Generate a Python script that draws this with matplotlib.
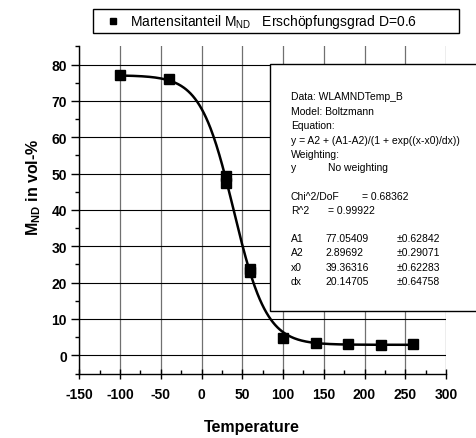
import numpy as np
import matplotlib
matplotlib.use("Agg")
import matplotlib.pyplot as plt
from matplotlib.patches import Rectangle
from matplotlib.lines import Line2D
from matplotlib.ticker import MultipleLocator

plt.rcParams['font.family'] = ['Liberation Sans', 'DejaVu Sans']
plt.rcParams['mathtext.fontset'] = 'custom'
plt.rcParams['mathtext.rm'] = 'Liberation Sans'
plt.rcParams['mathtext.bf'] = 'Liberation Sans:bold'
plt.rcParams['axes.unicode_minus'] = False

# Measured martensite fraction vs. temperature
temperature = [-100, -40, 30, 30, 60, 60, 100, 140, 180, 220, 260]
martensite = [77.0, 76.1, 49.3, 47.5, 23.7, 22.9, 4.9, 3.5, 3.0, 2.9, 3.1]

# Boltzmann fit parameters
A1, A2, x0, dx = 77.05409, 2.89692, 39.36316, 20.14705

W, H = 477, 439
fig = plt.figure(figsize=(W / 100, H / 100), dpi=100)

def fx(px):
    return px / W

def fy(py):
    return 1 - py / H

ax = fig.add_axes([fx(79.3), fy(374.5), fx(446) - fx(79.3), fy(47.4) - fy(374.5)])
ax.set_xlim(-150, 300)
ax.set_ylim(-5, 85)

ax.xaxis.set_major_locator(MultipleLocator(50))
ax.xaxis.set_minor_locator(MultipleLocator(25))
ax.set_yticks(np.arange(0, 81, 10))
ax.set_yticks(np.arange(-5, 86, 5), minor=True)

for s in ['top', 'right']:
    ax.spines[s].set_visible(False)
for s in ['left', 'bottom']:
    ax.spines[s].set_linewidth(1.0)

ax.tick_params(axis='x', which='major', direction='inout', length=7, width=1, pad=6)
ax.tick_params(axis='x', which='minor', direction='in', length=3, width=1)
ax.tick_params(axis='y', which='major', direction='out', length=6, width=1, pad=3)
ax.tick_params(axis='y', which='minor', direction='out', length=3, width=1)
for lab in ax.get_xticklabels() + ax.get_yticklabels():
    lab.set_fontweight('bold')
    lab.set_fontsize(10)

ax.grid(True, axis='y', which='major', color='black', linewidth=0.8)
ax.grid(True, axis='x', which='major', color='#707070', linewidth=0.9)
ax.set_axisbelow(True)

xs = np.linspace(-100, 260, 400)
ys = A2 + (A1 - A2) / (1 + np.exp((xs - x0) / dx))
ax.plot(xs, ys, color='black', linewidth=1.8, zorder=3)
ax.plot(temperature, martensite, linestyle='none', marker='s', markersize=6.5,
        color='black', zorder=4)

ax.set_xlabel('Temperature', fontsize=11.5, fontweight='bold')
ax.xaxis.set_label_coords((252 - 79.3) / (446 - 79.3), -(420 - 374.5) / (374.5 - 47.4))
ax.set_ylabel(r'$\mathbf{M_{ND}}$ in vol-%', fontsize=11.5, fontweight='bold')
ax.yaxis.set_label_coords((43 - 79.3) / (446 - 79.3), (374.5 - 187) / (374.5 - 47.4))

# Fit report panel
box = Rectangle((fx(270), fy(312)), fx(480) - fx(270), fy(65) - fy(312),
                transform=fig.transFigure, facecolor='white', edgecolor='black',
                linewidth=1.0, zorder=5, clip_on=False)
fig.add_artist(box)

fs = 7.5
def t(px, py, s, size=fs):
    fig.text(fx(px), fy(py), s, fontsize=size, va='center', ha='left', zorder=6)

t(290.7, 96.7, 'Data: WLAMNDTemp_B')
t(290.7, 111.7, 'Model: Boltzmann')
t(290.7, 125.7, 'Equation:')
t(290.7, 141, 'y = A2 + (A1-A2)/(1 + exp((x-x0)/dx))')
t(290.7, 155, 'Weighting:')
t(290.7, 168, 'y')
t(328, 168, 'No weighting')
t(290.7, 196.7, 'Chi^2/DoF')
t(361.7, 196.7, '= 0.68362')
t(290.7, 210.7, 'R^2')
t(328, 210.7, '= 0.99922')
rows = [('A1', '77.05409', '±0.62842'), ('A2', '2.89692', '±0.29071'),
        ('x0', '39.36316', '±0.62283'), ('dx', '20.14705', '±0.64758')]
for i, (n, v, e) in enumerate(rows):
    yy = 239 + i * 14.5
    t(290.7, yy, n)
    t(325.7, yy, v)
    t(396.7, yy, e)

# Legend box
legbox = Rectangle((fx(92.7), fy(34)), fx(459.3) - fx(92.7), fy(10) - fy(34),
                   transform=fig.transFigure, facecolor='white', edgecolor='black',
                   linewidth=1.0, zorder=5, clip_on=False)
fig.add_artist(legbox)
fig.add_artist(Line2D([fx(113)], [fy(21.5)], transform=fig.transFigure,
                      linestyle='none', marker='s', markersize=5, color='black',
                      zorder=6))
fig.text(fx(130), fy(22), r'Martensitanteil $\mathregular{M_{ND}}$   Erschöpfungsgrad D=0.6',
         fontsize=10, va='center', ha='left', zorder=6)

fig.savefig('out.png', dpi=100)
